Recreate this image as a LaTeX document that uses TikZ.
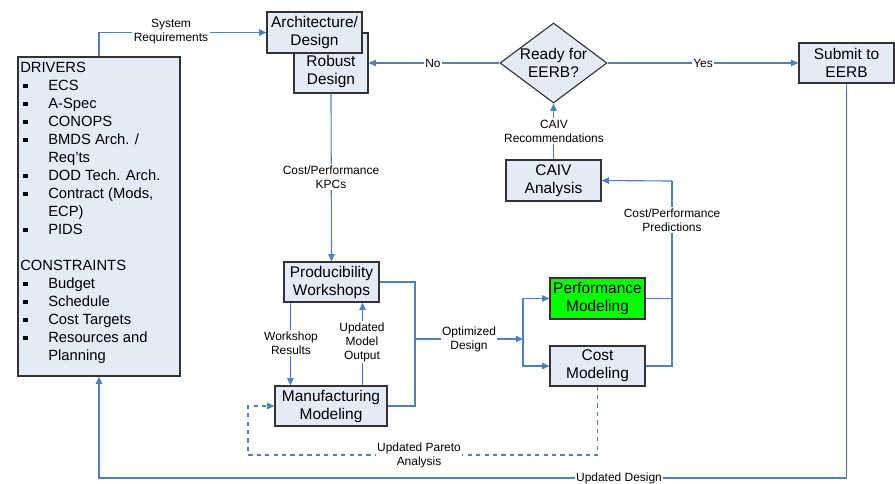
\documentclass[tikz,border=0pt]{standalone}
\usepackage{fontspec}
\setmainfont{Liberation Sans}
\usetikzlibrary{arrows.meta,shapes.geometric}
\definecolor{lineblue}{HTML}{5080C4}
\definecolor{boxfill}{HTML}{E4EAF6}
\definecolor{boxgreen}{HTML}{00FF00}
\newcommand{\bul}{\hspace*{0.08cm}\makebox[0.62cm][l]{\rule[0.3ex]{3pt}{3pt}}}
\newcommand{\ind}{\hspace*{0.7cm}}

\begin{document}
\begin{tikzpicture}[
      x=0.025cm, y=-0.025cm,
      box/.style={
        draw=black!80,
        fill=boxfill,
        line width=0.8pt,
        align=center,
        font=\fontsize{11}{12.8}\selectfont,
        minimum width=2.375cm,
        minimum height=1cm,
        inner sep=0pt
      },
      decision/.style={
        diamond,
        draw=black!80,
        fill=boxfill,
        line width=0.8pt,
        minimum width=2.675cm,
        minimum height=2cm,
        inner sep=0pt
      },
      flow/.style={draw=lineblue, line width=0.8pt},
      flowarrow/.style={flow, -{Triangle[length=1.8mm,width=1.6mm]}},
      lbl/.style={
        fill=white,
        align=center,
        inner sep=1pt,
        font=\fontsize{8.5}{10}\selectfont
      }
    ]
      \useasboundingbox (0,0) rectangle (895,483);

      \node (drivers) at (99,216.5) [box,minimum width=4.05cm,minimum height=7.975cm]{};
      \node (drvtext) at (20,62) [anchor=north west,align=left,inner sep=0pt,
        font=\fontsize{10.5}{12.8}\selectfont]{DRIVERS\\
        \bul ECS\\
        \bul A-Spec\\
        \bul CONOPS\\
        \bul BMDS Arch. /\\
        \ind Req’ts\\
        \bul DOD Tech. Arch.\\
        \bul Contract (Mods,\\
        \ind ECP)\\
        \bul PIDS\\[12.8pt]
        CONSTRAINTS\\
        \bul Budget\\
        \bul Schedule\\
        \bul Cost Targets\\
        \bul Resources and\\
        \ind Planning};

      \node (robust) at (331,63) [box,minimum width=1.85cm,minimum height=1.5cm]{};
      \node (robusttxt) at (331,71) [align=center,font=\fontsize{11}{12.8}\selectfont]{Robust\\Design};
      \node (arch) at (314.5,32.5) [box,minimum height=1.025cm]{Architecture/\\Design};

      \node (ready) at (553.5,63) [decision]{};
      \node (readytxt) at (553.5,63) [align=center,font=\fontsize{11}{12.8}\selectfont]{Ready for\\EERB?};
      \node (submit) at (846.5,63) [box]{Submit to\\EERB};
      \node (caiv) at (553.5,180.5) [box,minimum height=1.025cm]{CAIV\\Analysis};

      \node (prod) at (331.5,282) [box]{Producibility\\Workshops};
      \node (manu) at (331,406) [box,minimum width=2.8cm]{Manufacturing\\Modeling};
      \node (perf) at (597.5,298.5) [box,fill=boxgreen,minimum height=1.025cm]{Performance\\Modeling};
      \node (cost) at (597.5,366) [box]{Cost\\Modeling};

      \coordinate (cpx) at (672,181);
      \coordinate (optj) at (415,339);
      \coordinate (split) at (523,339);
      \coordinate (parl) at (248,455);
      \coordinate (updr) at (846.5,478);

      \draw[flowarrow] (drivers.north) |- (arch.west);
      \draw[flowarrow] (ready.west) -- (robust.east);
      \draw[flowarrow] (ready.east) -- (submit.west);
      \draw[flowarrow] (caiv.north) -- (ready.south);
      \draw[flow] (perf.east) -| (cpx);
      \draw[flow] (cost.east) -| (cpx);
      \draw[flowarrow] (cpx) -- (caiv.east);
      \draw[flowarrow] (robust.south) -- (prod.north);
      \draw[flowarrow] ([xshift=0.175cm]prod.south west) -- ([xshift=0.175cm]prod.south west |- manu.north);
      \draw[flowarrow] ([xshift=-0.625cm]manu.north east) -- ([xshift=-0.625cm]manu.north east |- prod.south);
      \draw[flow] (prod.east) -| (optj) |- (manu.east);
      \draw[flowarrow] (optj) -- (split);
      \draw[flowarrow] (split) |- (perf.west);
      \draw[flowarrow] (split) |- (cost.west);
      \draw[flowarrow,dashed] (cost.south) |- (parl) |- (manu.west);
      \draw[flowarrow] (submit.south) -- (updr) -| (drivers.south);

      \node (sysreq) at (171,32) [lbl]{System\\Requirements};
      \node (no) at (433,63) [lbl]{No};
      \node (yes) at (703,63) [lbl]{Yes};
      \node (caivrec) at (554,131) [lbl]{CAIV\\Recommendations};
      \node (cpp) at (672,220) [lbl]{Cost/Performance\\Predictions};
      \node (kpc) at (331,177) [lbl]{Cost/Performance\\KPCs};
      \node (wres) at (291,343) [lbl]{Workshop\\Results};
      \node (umo) at (362,342) [lbl]{Updated\\Model\\Output};
      \node (optd) at (469,339) [lbl]{Optimized\\Design};
      \node (pareto) at (419,455) [lbl]{Updated Pareto\\Analysis};
      \node (upd) at (619,478) [lbl]{Updated Design};

    \end{tikzpicture}
\end{document}
